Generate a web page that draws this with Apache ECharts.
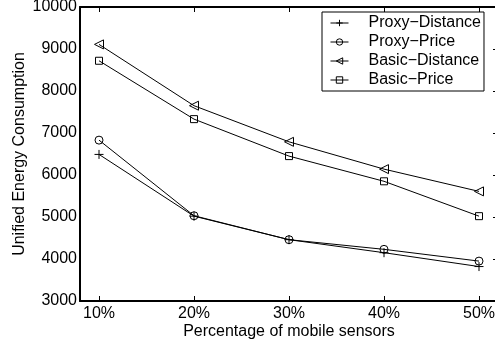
<!DOCTYPE html>
<html>
<head>
<meta charset="utf-8">
<script src="https://cdn.jsdelivr.net/npm/echarts@6/dist/echarts.min.js"></script>
<style>
  html, body { margin: 0; padding: 0; background: #fff; }
  #chart { width: 495px; height: 345px; }
</style>
</head>
<body>
<div id="chart"></div>
<script>
// x positions (percentage of mobile sensors)
const percents = [10, 20, 30, 40, 50];

// series values
const proxyDistance = [6490, 5020, 4460, 4150, 3820];
const proxyPrice    = [6830, 5030, 4460, 4230, 3950];
const basicDistance = [9110, 7650, 6790, 6140, 5610];
const basicPrice    = [8720, 7330, 6450, 5850, 5020];

const FONT = 'Liberation Sans, Arial, Helvetica, sans-serif';

// 标记符号（空心）
const CROSS = 'path://M0,5L10,5M5,0L5,10';
const TRI_LEFT = 'path://M0,5L10,0L10,10Z';

function pairs(vals) {
  return percents.map((p, i) => [p, vals[i]]);
}

function makeSeries(name, vals, symbol, size) {
  return {
    name,
    type: 'line',
    data: pairs(vals),
    symbol,
    symbolSize: size,
    showAllSymbol: true,
    lineStyle: { color: '#000', width: 1 },
    itemStyle: { color: 'transparent', borderColor: '#000', borderWidth: 1 },
    emphasis: { disabled: true },
    animation: false
  };
}

const chart = echarts.init(document.getElementById('chart'), null, { renderer: 'canvas' });

const axisLine = { show: true, lineStyle: { color: '#000', width: 2 } };
const labelStyle = { fontFamily: FONT, fontSize: 16, color: '#000' };

chart.setOption({
  backgroundColor: '#fff',
  animation: false,
  textStyle: { fontFamily: FONT },
  grid: { left: 80, top: 7, width: 418, height: 294, containLabel: false, outerBoundsMode: 'none' },
  legend: {
    left: 322,
    top: 12,
    orient: 'vertical',
    padding: [3, 3, 3, 8],
    itemGap: 3,
    itemWidth: 18,
    itemHeight: 8,
    borderColor: '#000',
    borderWidth: 1,
    borderRadius: 0,
    backgroundColor: '#fff',
    itemStyle: { color: 'transparent', borderColor: '#000', borderWidth: 1 },
    lineStyle: { color: '#000', width: 1 },
    textStyle: { fontFamily: FONT, fontSize: 16, color: '#000', padding: [0, 0, 0, 15], lineHeight: 16 },
    data: ['Proxy\u2212Distance', 'Proxy\u2212Price', 'Basic\u2212Distance', 'Basic\u2212Price']
  },
  xAxis: [
    {
      type: 'value',
      min: 8,
      max: 52,
      position: 'bottom',
      name: 'Percentage of mobile sensors',
      nameLocation: 'middle',
      nameGap: 23,
      nameMoveOverlap: false,
      nameTextStyle: labelStyle,
      axisLine,
      axisTick: { show: true, inside: true, length: 5, customValues: percents, lineStyle: { color: '#000' } },
      axisLabel: Object.assign({ customValues: percents, formatter: v => v + '%', margin: 5 }, labelStyle),
      splitLine: { show: false }
    },
    {
      type: 'value',
      min: 8,
      max: 52,
      position: 'top',
      axisLine,
      axisTick: { show: true, inside: true, length: 5, customValues: percents, lineStyle: { color: '#000' } },
      axisLabel: { show: false },
      splitLine: { show: false }
    }
  ],
  yAxis: [
    {
      type: 'value',
      min: 3000,
      max: 10000,
      interval: 1000,
      position: 'left',
      name: 'Unified Energy Consumption',
      nameLocation: 'middle',
      nameGap: 52,
      nameMoveOverlap: false,
      nameTextStyle: labelStyle,
      axisLine,
      axisTick: { show: false },
      axisLabel: Object.assign({ margin: 3, formatter: v => String(v) }, labelStyle),
      splitLine: { show: false }
    },
    {
      type: 'value',
      min: 3000,
      max: 10000,
      interval: 1000,
      position: 'right',
      axisLine,
      axisTick: { show: true, inside: true, length: 5, lineStyle: { color: '#000' } },
      axisLabel: { show: false },
      splitLine: { show: false }
    }
  ],
  series: [
    makeSeries('Proxy\u2212Distance', proxyDistance, CROSS, 9),
    makeSeries('Proxy\u2212Price', proxyPrice, 'circle', 8),
    makeSeries('Basic\u2212Distance', basicDistance, TRI_LEFT, 9),
    makeSeries('Basic\u2212Price', basicPrice, 'rect', 7)
  ]
});
</script>
</body>
</html>
